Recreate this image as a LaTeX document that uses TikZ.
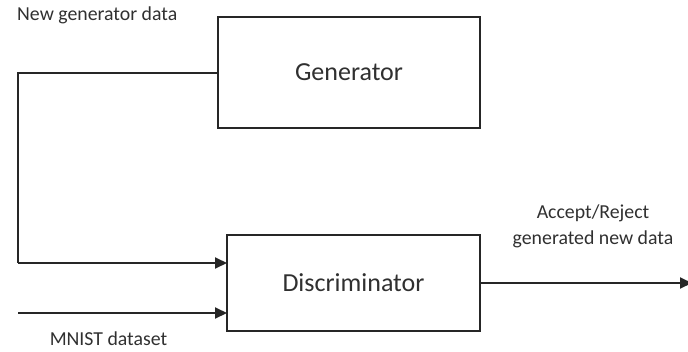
\documentclass[tikz,border=0pt]{standalone}
\usepackage{fontspec}
\setmainfont{Carlito}
\usetikzlibrary{arrows.meta}
\definecolor{ln}{HTML}{262626}
\definecolor{tx}{HTML}{303030}
\begin{document}
\begin{tikzpicture}[x=1pt,y=-1pt,
  blk/.style={draw=ln,line width=2pt,fill=white,inner sep=0pt,text=tx,font=\fontsize{26}{30}\selectfont},
  lbl/.style={text=tx,font=\fontsize{19.8}{26}\selectfont,inner sep=0pt,align=center},
  conn/.style={draw=ln,line width=2pt},
  arr/.style={conn,-{Triangle[length=12pt,width=11pt]}}]
\useasboundingbox (0,0) rectangle (688,351);
\node[blk,minimum width=262pt,minimum height=111pt] (gen) at (349,72.5) {Generator};
\node[blk,minimum width=253pt,minimum height=96pt] (disc) at (353.5,283) {Discriminator};
\coordinate (c1) at (18,72.5);
\coordinate (c2) at (18,263);
\coordinate (din1) at (227,263);
\coordinate (c3) at (18,313);
\coordinate (din2) at (227,313);
\coordinate (out) at (692,283);
\draw[conn] (gen.west) -- (c1) -- (c2);
\draw[arr] (c2) -- (din1);
\draw[arr] (c3) -- (din2);
\draw[arr] (disc.east) -- (out);
\node[lbl,anchor=west] (t1) at (17,15) {New generator data};
\node[lbl] (t2) at (108.5,339) {MNIST dataset};
\node[lbl] (t3) at (593,226) {Accept/Reject\\generated new data};
\end{tikzpicture}
\end{document}
